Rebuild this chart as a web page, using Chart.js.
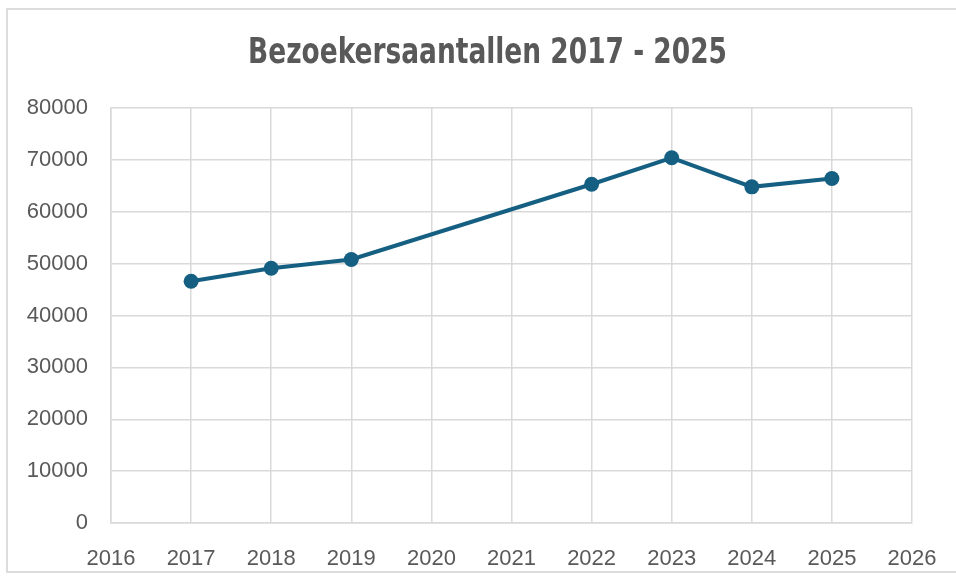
<!DOCTYPE html>
<html>
<head>
<meta charset="utf-8">
<script src="https://cdn.jsdelivr.net/npm/chart.js@4.4.1/dist/chart.umd.min.js"></script>
<style>
  html, body { margin: 0; padding: 0; background: #ffffff; width: 956px; height: 581px; overflow: hidden; }
  #frame { position: absolute; left: 6px; top: 8px; width: 960px; height: 565px; border: 2px solid #dcdcdc; box-sizing: border-box; }
  #wrap { position: absolute; left: 0; top: 0; width: 956px; height: 581px; }
</style>
</head>
<body>
<div id="frame"></div>
<div id="wrap"><canvas id="c" width="956" height="581"></canvas></div>
<script>
const titleText = "Bezoekersaantallen 2017 - 2025";
const years = [2017, 2018, 2019, 2022, 2023, 2024, 2025];
const visitors = [46600, 49100, 50800, 65300, 70400, 64800, 66400];
const xMin = 2016, xMax = 2026;
const yMin = 0, yMax = 80000, yStep = 10000;

const points = years.map((y, i) => ({ x: y, y: visitors[i] }));
const textColor = "#595959";
const gridColor = "#d9d9d9";
const lineColor = "#156082";

// Condensed bold title drawn as canvas text (horizontally narrowed like the original)
const condensedTitle = {
  id: "condensedTitle",
  afterDraw(chart) {
    const ctx = chart.ctx;
    ctx.save();
    ctx.font = "bold 35px 'DejaVu Sans Condensed', 'DejaVu Sans', sans-serif";
    ctx.fillStyle = textColor;
    ctx.textAlign = "center";
    ctx.textBaseline = "alphabetic";
    ctx.translate(487.5, 63);
    ctx.scale(0.84, 1);
    ctx.fillText(titleText, 0, 0);
    ctx.restore();
  }
};

new Chart(document.getElementById("c"), {
  type: "line",
  data: {
    datasets: [{
      data: points,
      borderColor: lineColor,
      backgroundColor: lineColor,
      borderWidth: 4,
      pointRadius: 7.5,
      pointHoverRadius: 7.5,
      pointBackgroundColor: lineColor,
      pointBorderColor: lineColor,
      pointBorderWidth: 0,
      tension: 0,
      fill: false
    }]
  },
  plugins: [condensedTitle],
  options: {
    responsive: false,
    animation: false,
    events: [],
    layout: { padding: { left: 0, right: 44, top: 108, bottom: 0 } },
    plugins: {
      legend: { display: false },
      tooltip: { enabled: false },
      title: { display: false }
    },
    scales: {
      x: {
        type: "linear",
        min: xMin,
        max: xMax,
        ticks: {
          stepSize: 1,
          color: textColor,
          font: { family: "'Liberation Sans', Arial, sans-serif", size: 22 },
          padding: 17,
          callback: v => String(v)
        },
        grid: { color: gridColor, lineWidth: 1.5, drawTicks: true, tickLength: 6, tickColor: "rgba(0,0,0,0)" },
        border: { color: gridColor, width: 1.5 },
        afterFit: s => { s.height = 58; }
      },
      y: {
        min: yMin,
        max: yMax,
        ticks: {
          stepSize: yStep,
          color: textColor,
          font: { family: "'Liberation Sans', Arial, sans-serif", size: 22 },
          padding: 23,
          callback: v => String(v)
        },
        grid: { color: gridColor, lineWidth: 1.5, drawTicks: false },
        border: { color: gridColor, width: 1.5 },
        afterFit: s => { s.width = 111; }
      }
    }
  }
});
</script>
</body>
</html>
